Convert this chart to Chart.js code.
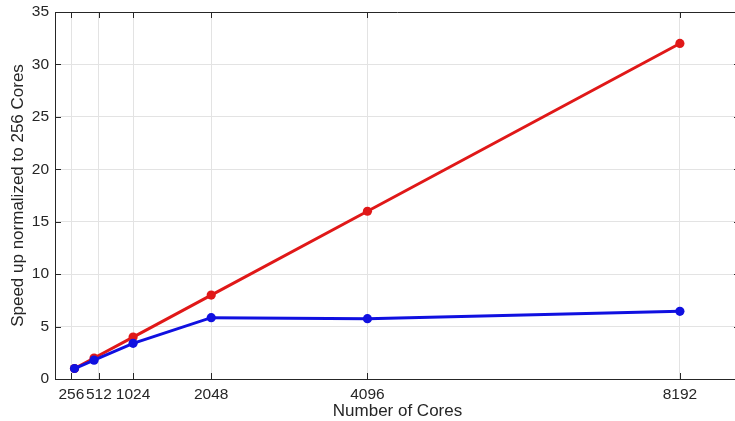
<!DOCTYPE html>
<html>
<head>
<meta charset="utf-8">
<script src="https://cdn.jsdelivr.net/npm/chart.js@4/dist/chart.umd.min.js"></script>
<style>
  html, body { margin: 0; padding: 0; background: #fff; overflow: hidden; }
  #wrap { width: 745px; height: 421px; }
</style>
</head>
<body>
<div id="wrap"><canvas id="myChart" width="745" height="421"></canvas></div>
<script>
// data
const cores = [256, 512, 1024, 2048, 4096, 8192];
const measured = [1.0, 1.8, 3.4, 5.85, 5.75, 6.45];
const ideal = [1, 2, 4, 8, 16, 32];
// the first two ticks sit a little apart from their data so the labels don't collide
const xTickPos = [215, 575, 1024, 2048, 4096, 8192];
const xTickLabels = ['256', '512', '1024', '2048', '4096', '8192'];
const yTicks = [0, 5, 10, 15, 20, 25, 30, 35];

const axisColor = '#262626';
const gridColor = '#e3e3e3';
const tickFont = { family: 'Liberation Sans', size: 15.5 };

// matlab style box with inward ticks on all four sides
const boxPlugin = {
  id: 'box',
  afterDraw(chart) {
    const { ctx, chartArea: a, scales } = chart;
    ctx.save();
    ctx.strokeStyle = axisColor;
    ctx.lineWidth = 1;
    ctx.beginPath();
    ctx.moveTo(a.left, a.top + 0.5);
    ctx.lineTo(a.right, a.top + 0.5);
    ctx.moveTo(a.right - 0.5, a.top);
    ctx.lineTo(a.right - 0.5, a.bottom);
    xTickPos.forEach(c => {
      const x = Math.round(scales.x.getPixelForValue(c)) + 0.5;
      ctx.moveTo(x, a.bottom); ctx.lineTo(x, a.bottom - 6);
      ctx.moveTo(x, a.top); ctx.lineTo(x, a.top + 6);
    });
    yTicks.forEach(v => {
      const y = Math.round(scales.y.getPixelForValue(v)) + 0.5;
      ctx.moveTo(a.left, y); ctx.lineTo(a.left + 6, y);
      ctx.moveTo(a.right, y); ctx.lineTo(a.right - 6, y);
    });
    ctx.stroke();
    ctx.restore();
  }
};

const toPoints = vals => cores.map((c, i) => ({ x: c, y: vals[i] }));

new Chart(document.getElementById('myChart').getContext('2d'), {
  type: 'line',
  data: {
    datasets: [{
      label: 'Measured',
      data: toPoints(measured),
      borderColor: '#1010e0',
      backgroundColor: '#1010e0',
      borderWidth: 3,
      pointRadius: 4.6,
      pointBorderWidth: 0,
      pointHoverRadius: 4.6,
      tension: 0
    }, {
      label: 'Ideal',
      data: toPoints(ideal),
      borderColor: '#e01818',
      backgroundColor: '#e01818',
      borderWidth: 3,
      pointRadius: 4.6,
      pointBorderWidth: 0,
      pointHoverRadius: 4.6,
      tension: 0
    }]
  },
  options: {
    responsive: false,
    animation: false,
    layout: { padding: { top: 12, right: 5, left: 0, bottom: 0 } },
    plugins: {
      legend: { display: false },
      tooltip: { enabled: false }
    },
    scales: {
      x: {
        type: 'linear',
        min: 0,
        max: 8980,
        afterBuildTicks: scale => { scale.ticks = xTickPos.map(v => ({ value: v })); },
        afterFit: scale => {
          scale.height = 42;
          scale.paddingLeft = 0;
          scale.paddingRight = 0;
        },
        ticks: {
          autoSkip: false,
          maxRotation: 0,
          padding: 6,
          color: axisColor,
          font: tickFont,
          callback: (v, i) => xTickLabels[i]
        },
        grid: { color: gridColor, drawTicks: false },
        border: { display: true, color: axisColor },
        title: {
          display: true,
          text: 'Number of Cores',
          color: axisColor,
          padding: { top: 0, bottom: -1 },
          font: { family: 'Liberation Sans', size: 17 }
        }
      },
      y: {
        min: 0,
        max: 35,
        afterBuildTicks: scale => { scale.ticks = yTicks.map(v => ({ value: v })); },
        afterFit: scale => {
          scale.width = 55;
          scale.paddingTop = 0;
          scale.paddingBottom = 0;
        },
        ticks: {
          padding: 6,
          color: axisColor,
          font: tickFont
        },
        grid: { color: gridColor, drawTicks: false },
        border: { display: true, color: axisColor },
        title: {
          display: true,
          text: 'Speed up normalized to 256 Cores',
          color: axisColor,
          padding: { top: 8, bottom: 0 },
          font: { family: 'Liberation Sans', size: 17 }
        }
      }
    }
  },
  plugins: [boxPlugin]
});
</script>
</body>
</html>
